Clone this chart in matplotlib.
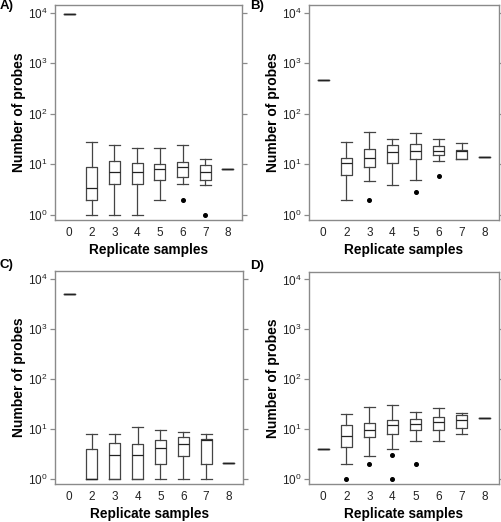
import matplotlib.pyplot as plt

plt.rcParams['font.family'] = ['Liberation Sans', 'DejaVu Sans']
plt.rcParams['mathtext.fontset'] = 'custom'
plt.rcParams['mathtext.rm'] = 'Liberation Sans'
plt.rcParams['mathtext.it'] = 'Liberation Sans:italic'
plt.rcParams['mathtext.bf'] = 'Liberation Sans:bold'

labels = ['0', '2', '3', '4', '5', '6', '7', '8']

# panel A
a_lo = [9500, 1, 1, 1, 2, 4, 3.9, 8]
a_q1 = [9500, 2, 4.1, 4, 5, 5.7, 4.9, 8]
a_med = [9500, 3.4, 7, 7, 8, 8.7, 7, 8]
a_q3 = [9500, 8.8, 11.8, 10.8, 10, 11, 9.8, 8]
a_hi = [9500, 28, 24, 21, 21, 24, 13, 8]
a_out = [[], [], [], [], [], [2], [1], []]

# panel B
b_lo = [475, 2, 4.7, 3.9, 4.9, 11.4, 12.5, 13.7]
b_q1 = [475, 6.2, 8.7, 10.8, 12.9, 15, 12.5, 13.7]
b_med = [475, 10.6, 13.3, 17.8, 18.6, 18.6, 18, 13.7]
b_q3 = [475, 13.5, 19.8, 23.7, 25, 23, 19.5, 13.7]
b_hi = [475, 28, 44, 31, 42, 32, 27, 13.7]
b_out = [[], [], [2], [], [2.9], [5.9], [], []]

# panel C
c_lo = [4900, 1, 1, 1, 1, 1, 1, 2.1]
c_q1 = [4900, 1, 1, 1, 2, 2.9, 2, 2.1]
c_med = [4900, 1, 3.05, 3, 4.06, 4.9, 5.9, 2.1]
c_q3 = [4900, 4, 5.3, 4.9, 6, 7, 6.4, 2.1]
c_hi = [4900, 8, 8, 11.1, 9.7, 8.8, 8, 2.1]
c_out = [[], [], [], [], [], [], [], []]

# panel D
d_lo = [4.06, 2.03, 2.96, 4, 5.9, 5.9, 8.1, 16.7]
d_q1 = [4.06, 4.45, 6.9, 8, 9.7, 9.7, 10.7, 16.7]
d_med = [4.06, 7.4, 9.4, 12.2, 12.8, 13.8, 15, 16.7]
d_q3 = [4.06, 12.2, 13.2, 15, 16, 17.3, 19.5, 16.7]
d_hi = [4.06, 20, 28, 30, 22, 26.5, 20.7, 16.7]
d_out = [[], [1], [2], [3, 1], [2], [], [], []]

W, H = 501, 522
fig = plt.figure(figsize=(W / 100, H / 100), dpi=100)

line_col = '#444444'
spine_col = '#8a8a8a'


def panel(rect_px, letter, letter_px, lo, q1, med, q3, hi, out):
    l, t, r, b = rect_px
    ax = fig.add_axes([l / W, 1 - b / H, (r - l) / W, (b - t) / H])
    stats = []
    for i in range(len(labels)):
        stats.append(dict(whislo=lo[i], q1=q1[i], med=med[i], q3=q3[i],
                          whishi=hi[i], fliers=out[i]))
    pos = list(range(len(labels)))
    ax.bxp(stats, positions=pos, widths=0.48, capwidths=0.48,
           boxprops=dict(color=line_col, linewidth=0.9),
           whiskerprops=dict(color=line_col, linewidth=0.9),
           capprops=dict(color=line_col, linewidth=0.9),
           medianprops=dict(color='#222222', linewidth=0.9),
           flierprops=dict(marker='o', markerfacecolor='black',
                           markeredgecolor='black', markersize=2.6))
    ax.set_yscale('log')
    ax.set_ylim(10 ** -0.1, 10 ** 4.15)
    ax.set_xlim(-0.62, 7.62)
    ax.set_yticks([1, 10, 100, 1000, 10000])
    ax.set_yticklabels([r'$\mathregular{10^{0}}$', r'$\mathregular{10^{1}}$',
                        r'$\mathregular{10^{2}}$', r'$\mathregular{10^{3}}$',
                        r'$\mathregular{10^{4}}$'])
    ax.minorticks_off()
    ax.set_xticks(pos)
    ax.set_xticklabels(labels)
    ax.tick_params(axis='x', length=0, pad=5, labelsize=8.5, labelcolor='#222222')
    ax.tick_params(axis='y', which='major', direction='out', length=3.5, width=0.9,
                   color=spine_col, right=True, labelright=False, pad=2,
                   labelsize=8.5, labelcolor='#222222')
    for s in ax.spines.values():
        s.set_color(spine_col)
        s.set_linewidth(1.0)
    ax.set_xlabel('Replicate samples', fontsize=9.8, fontweight='bold', labelpad=3)
    ax.set_ylabel('Number of probes', fontsize=10, fontweight='bold', labelpad=1)
    fig.text(letter_px[0] / W, 1 - letter_px[1] / H, letter, fontsize=9.5,
             fontweight='bold', va='center', ha='left')
    return ax


panel((55, 5, 242, 220), 'A)', (0, 6), a_lo, a_q1, a_med, a_q3, a_hi, a_out)
panel((309, 5, 499, 220), 'B)', (250, 6), b_lo, b_q1, b_med, b_q3, b_hi, b_out)
panel((55, 271, 243, 484), 'C)', (0, 265), c_lo, c_q1, c_med, c_q3, c_hi, c_out)
panel((309, 272, 499, 484), 'D)', (250, 266), d_lo, d_q1, d_med, d_q3, d_hi, d_out)

fig.savefig('out.png', dpi=100)
